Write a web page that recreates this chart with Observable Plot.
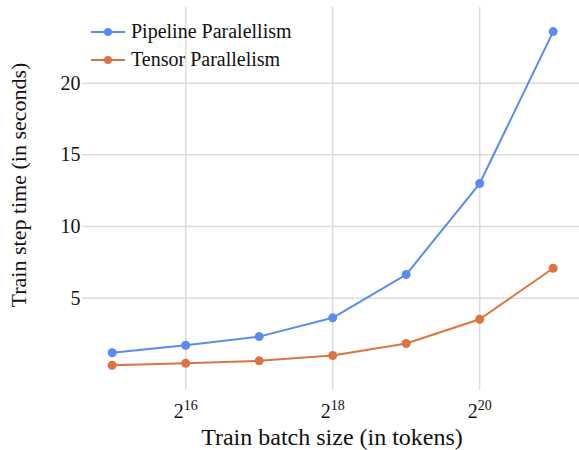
<!DOCTYPE html>
<html><head><meta charset="utf-8">
<script src="https://cdn.jsdelivr.net/npm/d3@7"></script>
<script src="https://cdn.jsdelivr.net/npm/@observablehq/plot@0.6"></script>
<style>
body{margin:0;background:#fff;}
#wrap{position:relative;width:579px;height:450px;}
#wrap svg, #wrap svg g, #wrap svg text, #wrap svg tspan{font-family:"Liberation Serif","Times New Roman",serif !important;font-variant:normal !important;}
</style></head><body><div id="wrap"></div>
<script>
const batchSizes = [2**15, 2**16, 2**17, 2**18, 2**19, 2**20, 2**21];
const pipelineTimes = [1.19, 1.72, 2.32, 3.63, 6.65, 13.0, 23.6];
const tensorTimes = [0.32, 0.46, 0.63, 1.0, 1.84, 3.53, 7.09];
const seriesNames = ["Pipeline Paralellism", "Tensor Parallelism"];
const seriesColors = ["#5a8cf0", "#db7442"];
const xTicks = [2**16, 2**18, 2**20];
const yTicks = [5, 10, 15, 20];
const xTitle = "Train batch size (in tokens)";
const yTitle = "Train step time (in seconds)";

const FONT = '"Liberation Serif","Times New Roman",serif';
const data = batchSizes.flatMap((b, i) => [
  {b, t: pipelineTimes[i], s: seriesNames[0]},
  {b, t: tensorTimes[i], s: seriesNames[1]}
]);

const chart = Plot.plot({
  width: 579, height: 450,
  marginLeft: 82, marginRight: 0, marginTop: 7, marginBottom: 60,
  style: {fontFamily: FONT, fontSize: "20px", color: "#111", background: "#fff"},
  x: {type: "log", base: 2, domain: [2**14.596, 2**21.358]},
  y: {domain: [-1.44, 25.28]},
  color: {domain: seriesNames, range: seriesColors},
  marks: [
    Plot.gridX(xTicks, {stroke: "#dcdcdc", strokeOpacity: 1, strokeWidth: 1.5}),
    Plot.gridY(yTicks, {stroke: "#dcdcdc", strokeOpacity: 1, strokeWidth: 1.5}),
    Plot.axisX(xTicks, {tickSize: 0, tickPadding: 13, label: null, tickFormat: d => "2^" + Math.round(Math.log2(d)), fontSize: 20}),
    Plot.axisY(yTicks, {tickSize: 0, tickPadding: 2, label: null, fontSize: 20}),
    Plot.line(data, {x: "b", y: "t", stroke: "s", strokeWidth: 2}),
    Plot.dot(data, {x: "b", y: "t", fill: "s", r: 4.5})
  ]
});

const svg = d3.select(chart);
// superscript exponents on x tick labels
svg.selectAll('g[aria-label="x-axis tick label"] text').each(function() {
  const el = d3.select(this);
  const txt = el.text();
  const exp = txt.split("^")[1];
  el.text(null);
  el.append("tspan").text("2");
  el.append("tspan").attr("font-size", 14).attr("dy", "-0.55em").text(exp);
});

// axis titles
svg.append("text").attr("x", 332).attr("y", 445).attr("text-anchor", "middle")
  .attr("font-size", 24).attr("fill", "#111").text(xTitle);
svg.append("text").attr("transform", "translate(26,185) rotate(-90)").attr("text-anchor", "middle")
  .attr("font-size", 22).attr("fill", "#111").text(yTitle);

// legend
const leg = svg.append("g").attr("font-size", 20).attr("fill", "#111").attr("text-anchor", "start");
seriesNames.forEach((name, i) => {
  const y = 32 + i * 28;
  leg.append("line").attr("x1", 91).attr("x2", 125).attr("y1", y).attr("y2", y)
    .attr("stroke", seriesColors[i]).attr("stroke-width", 2);
  leg.append("circle").attr("cx", 108).attr("cy", y).attr("r", 4).attr("fill", seriesColors[i]);
  leg.append("text").attr("x", 131).attr("y", y).attr("dy", "0.32em").text(name);
});

svg.selectAll("text, tspan").attr("font-family", FONT).style("font-family", FONT).style("font-variant", "normal");
svg.selectAll("g").attr("font-family", FONT);

document.getElementById("wrap").appendChild(chart);
</script>
</body></html>
